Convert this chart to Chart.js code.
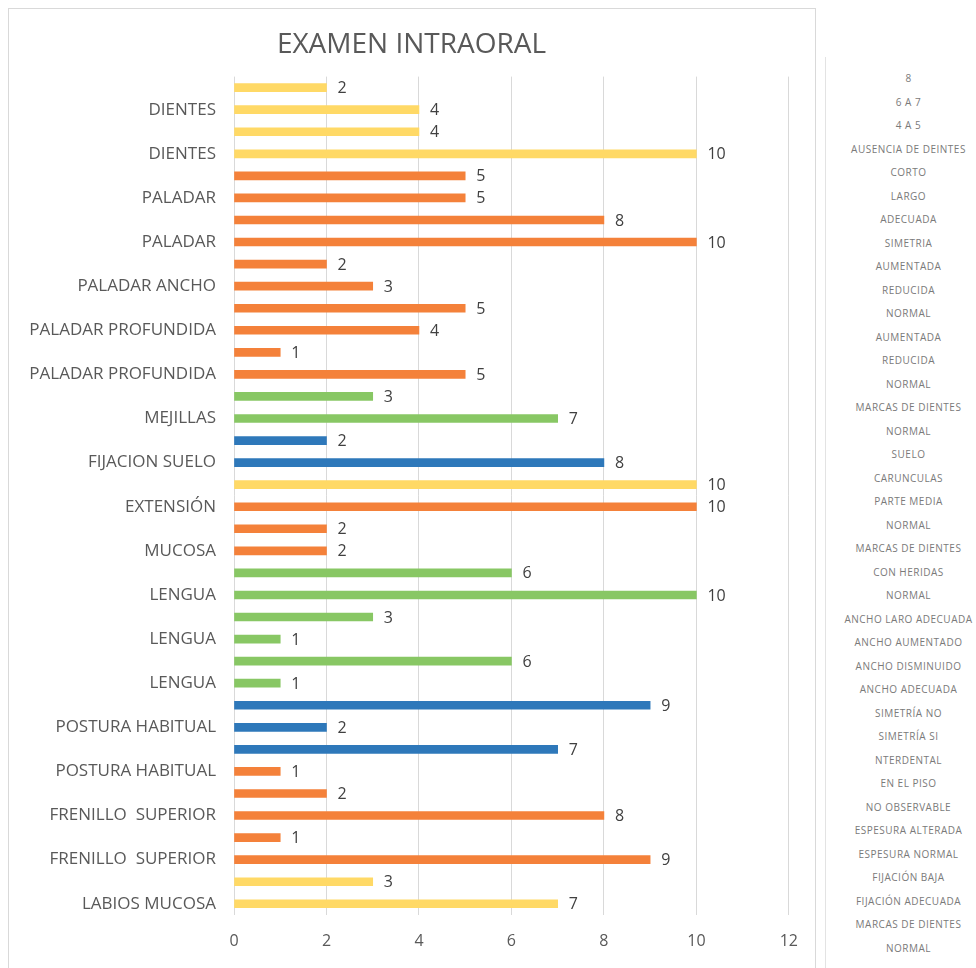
<!DOCTYPE html>
<html>
<head>
<meta charset="utf-8">
<script src="https://cdn.jsdelivr.net/npm/chart.js@4/dist/chart.umd.min.js"></script>
<style>
  body { margin: 0; background: #fff; width: 976px; height: 968px; overflow: hidden; position: relative; font-family: 'Open Sans', sans-serif; }
  #frame { position: absolute; left: 8px; top: 8px; width: 806px; height: 980px; border: 1px solid #d9d9d9; }
  #wrap { position: absolute; left: 8px; top: 8px; width: 807px; height: 960px; }
  #side { position: absolute; left: 825px; top: 57px; width: 151px; height: 920px; border-left: 1px solid #e3e3e3; }
  #side ul { list-style: none; margin: 0; padding: 0; position: absolute; top: 10px; left: 7px; width: 151px; }
  #side li { height: 23.5px; line-height: 23.5px; text-align: center; font-size: 10px; color: #7a7a7a; letter-spacing: 0.5px; white-space: nowrap; }
</style>
</head>
<body>
<div id="frame"></div>
<div id="wrap"><canvas id="intraoral"></canvas></div>
<div id="side"><ul id="sideList"></ul></div>
<script>
// rows top to bottom, only every other row shows its category label
const categories = [
    '', 'DIENTES', '', 'DIENTES', '', 'PALADAR', '', 'PALADAR',
    '', 'PALADAR ANCHO', '', 'PALADAR PROFUNDIDA', '', 'PALADAR PROFUNDIDA',
    '', 'MEJILLAS', '', 'FIJACION SUELO', '', 'EXTENSIÓN', '', 'MUCOSA',
    '', 'LENGUA', '', 'LENGUA', '', 'LENGUA', '', 'POSTURA HABITUAL',
    '', 'POSTURA HABITUAL', '', 'FRENILLO  SUPERIOR', '', 'FRENILLO  SUPERIOR',
    '', 'LABIOS MUCOSA'
];
const values = [2, 4, 4, 10, 5, 5, 8, 10, 2, 3, 5, 4, 1, 5, 3, 7, 2, 8, 10, 10,
    2, 2, 6, 10, 3, 1, 6, 1, 9, 2, 7, 1, 2, 8, 1, 9, 3, 7];
const groups = ['Y', 'Y', 'Y', 'Y', 'O', 'O', 'O', 'O', 'O', 'O', 'O', 'O', 'O', 'O',
    'G', 'G', 'B', 'B', 'Y', 'O', 'O', 'O', 'G', 'G', 'G', 'G', 'G', 'G',
    'B', 'B', 'B', 'O', 'O', 'O', 'O', 'O', 'Y', 'Y'];
const xTicks = [0, 2, 4, 6, 8, 10, 12];
const sideLabels = [
    '8', '6 A 7', '4 A 5', 'AUSENCIA DE DEINTES', 'CORTO', 'LARGO', 'ADECUADA',
    'SIMETRIA', 'AUMENTADA', 'REDUCIDA', 'NORMAL', 'AUMENTADA', 'REDUCIDA',
    'NORMAL', 'MARCAS DE DIENTES', 'NORMAL', 'SUELO', 'CARUNCULAS', 'PARTE MEDIA',
    'NORMAL', 'MARCAS DE DIENTES', 'CON HERIDAS', 'NORMAL', 'ANCHO LARO ADECUADA',
    'ANCHO AUMENTADO', 'ANCHO DISMINUIDO', 'ANCHO ADECUADA', 'SIMETRÍA NO',
    'SIMETRÍA SI', 'NTERDENTAL', 'EN EL PISO', 'NO OBSERVABLE', 'ESPESURA ALTERADA',
    'ESPESURA NORMAL', 'FIJACIÓN BAJA', 'FIJACIÓN ADECUADA', 'MARCAS DE DIENTES', 'NORMAL'
];

const palette = { Y: '#ffd966', O: '#f4813a', G: '#88c764', B: '#2e78ba' };

const ul = document.getElementById('sideList');
sideLabels.forEach(t => {
    const li = document.createElement('li');
    li.textContent = t;
    ul.appendChild(li);
});

const valueLabels = {
    id: 'valueLabels',
    afterDatasetsDraw(chart) {
        const ctx = chart.ctx;
        const meta = chart.getDatasetMeta(0);
        ctx.save();
        ctx.font = "16px 'Open Sans', sans-serif";
        ctx.fillStyle = '#404040';
        ctx.textAlign = 'left';
        ctx.textBaseline = 'middle';
        meta.data.forEach((bar, i) => {
            ctx.fillText(String(values[i]), bar.x + 11, bar.y + 1);
        });
        ctx.restore();
    }
};

Chart.defaults.font.family = "'Open Sans', sans-serif";
Chart.defaults.color = '#595959';

const ctx = document.getElementById('intraoral').getContext('2d');
const chart = new Chart(ctx, {
    type: 'bar',
    data: {
        labels: categories,
        datasets: [{
            data: values,
            backgroundColor: groups.map(g => palette[g]),
            borderWidth: 0,
            barThickness: 8
        }]
    },
    plugins: [valueLabels],
    options: {
        indexAxis: 'y',
        responsive: true,
        maintainAspectRatio: false,
        animation: false,
        layout: { padding: { left: 0, right: 0, top: 0, bottom: 0 } },
        plugins: {
            legend: { display: false },
            tooltip: { enabled: false },
            title: {
                display: true,
                text: 'EXAMEN INTRAORAL',
                color: '#595959',
                font: { size: 28, weight: 'normal' },
                padding: { top: 20, bottom: 15 }
            }
        },
        scales: {
            x: {
                min: 0,
                max: 12,
                afterBuildTicks(scale) {
                    scale.ticks = xTicks.map(v => ({ value: v }));
                },
                grid: { color: '#d9d9d9', drawTicks: false },
                border: { display: false },
                ticks: { padding: 17, font: { size: 16 }, color: '#595959' }
            },
            y: {
                afterFit(scale) { scale.width = 226; },
                grid: { display: false },
                border: { display: false },
                ticks: {
                    autoSkip: false,
                    padding: 10,
                    font: { size: 17 },
                    color: '#595959',
                    callback: (v, i) => categories[i]
                }
            },
            // empty right margin so the title stays centred on the frame
            margin: {
                type: 'linear',
                position: 'right',
                min: 0,
                max: 1,
                afterFit(scale) { scale.width = 24; },
                grid: { display: false },
                border: { display: false },
                ticks: { display: false }
            }
        }
    }
});
</script>
</body>
</html>
